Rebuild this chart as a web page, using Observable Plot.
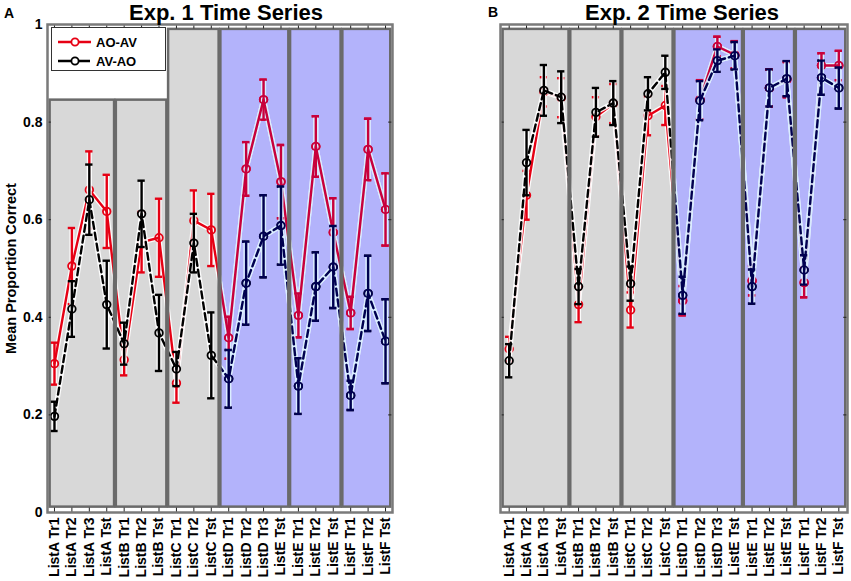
<!DOCTYPE html>
<html><head><meta charset="utf-8">
<script src="https://cdn.jsdelivr.net/npm/d3@7"></script>
<script src="https://cdn.jsdelivr.net/npm/@observablehq/plot@0.6"></script>
<style>
body{margin:0;background:#fff;font-family:"Liberation Sans",Arial,sans-serif;}
#fig{position:relative;width:851px;height:581px;overflow:hidden;background:#fff;}
.panel{position:absolute;top:0;}
.title{position:absolute;top:0;font-weight:bold;font-size:22px;line-height:25px;transform:translateX(-50%);white-space:nowrap;color:#000;}
.letter{position:absolute;font-weight:bold;font-size:14px;line-height:16px;color:#000;}
#legend{position:absolute;left:51px;top:27px;width:113px;height:42px;background:#fff;border:1.5px solid #333;}
#legend svg{position:absolute;left:0;top:0;}
</style></head><body>
<div id="fig"></div>
<script>
// ---- data ----
const conditions = ["ListA Tr1","ListA Tr2","ListA Tr3","ListA Tst","ListB Tr1","ListB Tr2","ListB Tst","ListC Tr1","ListC Tr2","ListC Tst","ListD Tr1","ListD Tr2","ListD Tr3","ListE Tst","ListE Tr1","ListE Tr2","ListE Tst","ListF Tr1","ListF Tr2","ListF Tst"];
const seriesNames = ["AO-AV","AV-AO"];

const exp1AOAV    = [0.305,0.505,0.661,0.617,0.313,0.554,0.563,0.265,0.598,0.579,0.358,0.704,0.846,0.678,0.404,0.750,0.574,0.409,0.744,0.621];
const exp1AOAVErr = [0.043,0.078,0.079,0.075,0.032,0.062,0.080,0.040,0.062,0.074,0.043,0.055,0.041,0.075,0.045,0.062,0.070,0.033,0.063,0.074];
const exp1AVAO    = [0.197,0.417,0.641,0.426,0.346,0.612,0.368,0.294,0.552,0.322,0.274,0.470,0.566,0.588,0.259,0.463,0.503,0.240,0.449,0.351];
const exp1AVAOErr = [0.030,0.057,0.072,0.090,0.043,0.068,0.078,0.035,0.060,0.088,0.059,0.085,0.084,0.080,0.057,0.070,0.084,0.030,0.077,0.086];

const exp2AOAV    = [0.335,0.650,0.862,0.850,0.426,0.811,0.838,0.415,0.813,0.834,0.434,0.846,0.955,0.938,0.475,0.870,0.887,0.471,0.916,0.916];
const exp2AOAVErr = [0.025,0.050,0.030,0.040,0.036,0.040,0.040,0.036,0.040,0.040,0.030,0.040,0.020,0.028,0.030,0.038,0.036,0.030,0.025,0.030];
const exp2AVAO    = [0.311,0.717,0.865,0.851,0.463,0.820,0.839,0.469,0.858,0.902,0.445,0.844,0.926,0.936,0.463,0.870,0.889,0.497,0.891,0.870];
const exp2AVAOErr = [0.034,0.067,0.052,0.053,0.036,0.050,0.045,0.035,0.034,0.034,0.038,0.040,0.023,0.028,0.035,0.038,0.036,0.030,0.035,0.042];

const blockStart = [1,5,8,11,15,18];
const blockEnd   = [4,7,10,14,17,20];
const blockKind  = ["gray","gray","gray","blue","blue","blue"];
const exp1BlockTop = [0.845,0.845,0.99,0.99,0.99,0.99];
const exp2BlockTop = [0.99,0.99,0.99,0.99,0.99,0.99];
const yTicks = [0,0.2,0.4,0.6,0.8,1];

// ---- drawing ----
const RED = "#e60014", BLACK = "#000000";
const RED_B = "#c8003c", BLACK_B = "#000050";
const FONT = "'Liberation Sans', Arial, sans-serif";
const idx = conditions.map((_, i) => i + 1);
let clipCount = 0;

function rowsOf(vals, errs) { return idx.map((x, i) => ({x, v: vals[i], e: errs[i]})); }

function seriesMarks(data, color, dash, halo, tag) {
  const lo = d => d.v - d.e, hi = d => d.v + d.e;
  const a = tag ? {ariaDescription: tag} : {};
  const w = 0.21;
  return [
    Plot.line(data, {x: "x", y: "v", stroke: halo, strokeWidth: 5, strokeOpacity: 0.9, ...a}),
    Plot.ruleX(data, {x: "x", y1: lo, y2: hi, stroke: halo, strokeWidth: 5, strokeOpacity: 0.9, ...a}),
    Plot.line(data, {x: "x", y: "v", stroke: color, strokeWidth: 2.4, strokeDasharray: dash, ...a}),
    Plot.ruleX(data, {x: "x", y1: lo, y2: hi, stroke: color, strokeWidth: 2.4, ...a}),
    Plot.ruleY(data, {x1: d => d.x - w, x2: d => d.x + w, y: hi, stroke: color, strokeWidth: 2.4, ...a}),
    Plot.ruleY(data, {x1: d => d.x - w, x2: d => d.x + w, y: lo, stroke: color, strokeWidth: 2.4, ...a}),
    Plot.dot(data, {x: "x", y: "v", r: 3.8, stroke: color, strokeWidth: 1.8, fill: "none", ...a})
  ];
}

function panel({aoav, aoavErr, avao, avaoErr, tops, xDomain, width, marginLeft, marginRight, showY}) {
  const blocks = blockStart.map((s, i) => ({x1: Math.max(s - 0.45, xDomain[0] + 0.15), x2: Math.min(blockEnd[i] + 0.45, xDomain[1] - 0.1), y1: 0.011, y2: tops[i], kind: blockKind[i]}));
  const gray = blocks.filter(b => b.kind === "gray");
  const blue = blocks.filter(b => b.kind === "blue");
  const red = rowsOf(aoav, aoavErr), black = rowsOf(avao, avaoErr);
  const marks = [
    Plot.rect(gray, {x1: "x1", x2: "x2", y1: "y1", y2: "y2", fill: "#d8d8d8"}),
    Plot.rect(blue, {x1: "x1", x2: "x2", y1: "y1", y2: "y2", fill: "#b3b3fb"}),
    ...seriesMarks(red, RED, null, "#fff", null),
    ...seriesMarks(black, BLACK, "7,4", "#fff", null),
    ...seriesMarks(red, RED_B, null, "#d6ecff", "inblue"),
    ...seriesMarks(black, BLACK_B, "7,4", "#d6ecff", "inblue"),
    Plot.rect(blocks, {x1: "x1", x2: "x2", y1: "y1", y2: "y2", fill: "none", stroke: "#6a6a6a", strokeWidth: 2.5}),
    Plot.ruleX(idx, {x: d => d, y1: 0, y2: 0.009, stroke: "#222", strokeWidth: 1}),
    Plot.ruleX(idx, {x: d => d, y1: 1, y2: 0.991, stroke: "#222", strokeWidth: 1}),
    Plot.ruleY(yTicks, {y: d => d, x1: xDomain[0], x2: xDomain[0] + 0.22, stroke: "#222", strokeWidth: 1}),
    Plot.ruleY(yTicks, {y: d => d, x1: xDomain[1], x2: xDomain[1] - 0.22, stroke: "#222", strokeWidth: 1}),
    Plot.frame({stroke: "#7a7a7a", strokeWidth: 2.5}),
    Plot.axisX(idx, {tickFormat: i => conditions[i - 1], tickRotate: -90, tickSize: 0, tickPadding: 5, label: null, fontSize: 14, fontWeight: "bold"})
  ];
  if (showY) {
    marks.push(Plot.axisY(yTicks, {tickFormat: d => d === 0 ? "0" : d === 1 ? "1" : String(d), tickSize: 0, tickPadding: 5, fontSize: 14, fontWeight: "bold"}));
    marks.push(Plot.axisY({ticks: [], tickSize: 0, label: "Mean Proportion Correct", labelAnchor: "center", labelArrow: "none", labelOffset: 42, fontSize: 14.5, fontWeight: "bold"}));
  }
  const svg = Plot.plot({
    width, height: 581,
    marginLeft, marginRight, marginTop: 24, marginBottom: 69,
    style: {fontFamily: FONT, fontWeight: "bold", fontSize: "12px", color: "#000", background: "transparent", overflow: "visible"},
    x: {domain: xDomain, axis: null},
    y: {domain: [0, 1], axis: null},
    marks
  });
  // clip the blue-region recolouring to the blue blocks, using the plot's own scales
  const xs = svg.scale("x"), ys = svg.scale("y");
  const ns = "http://www.w3.org/2000/svg";
  const id = "blueclip" + (clipCount++);
  const defs = document.createElementNS(ns, "defs");
  const cp = document.createElementNS(ns, "clipPath");
  cp.setAttribute("id", id);
  blue.forEach(b => {
    const r = document.createElementNS(ns, "rect");
    const x1 = xs.apply(b.x1), x2 = xs.apply(b.x2), y1 = ys.apply(b.y2), y2 = ys.apply(b.y1);
    r.setAttribute("x", x1); r.setAttribute("y", y1);
    r.setAttribute("width", x2 - x1); r.setAttribute("height", y2 - y1);
    cp.appendChild(r);
  });
  defs.appendChild(cp);
  svg.insertBefore(defs, svg.firstChild);
  svg.querySelectorAll('[aria-description="inblue"]').forEach(g => g.setAttribute("clip-path", `url(#${id})`));
  return svg;
}

const fig = document.getElementById("fig");
const left = panel({aoav: exp1AOAV, aoavErr: exp1AOAVErr, avao: exp1AVAO, avaoErr: exp1AVAOErr, tops: exp1BlockTop,
  xDomain: [0.6, 20.4], width: 430, marginLeft: 47, marginRight: 38, showY: true});
left.classList.add("panel"); left.style.left = "0px";
fig.appendChild(left);
const right = panel({aoav: exp2AOAV, aoavErr: exp2AOAVErr, avao: exp2AVAO, avaoErr: exp2AVAOErr, tops: exp2BlockTop,
  xDomain: [0.5, 20.5], width: 421, marginLeft: 70, marginRight: 4, showY: false});
right.classList.add("panel"); right.style.left = "430px";
fig.appendChild(right);

function addDiv(cls, text, css) {
  const d = document.createElement("div");
  d.className = cls; d.textContent = text; Object.assign(d.style, css); fig.appendChild(d); return d;
}
addDiv("title", "Exp. 1 Time Series", {left: "226px"});
addDiv("title", "Exp. 2 Time Series", {left: "682px"});
addDiv("letter", "A", {left: "4px", top: "5px"});
addDiv("letter", "B", {left: "488px", top: "4px"});

// legend
const lg = document.createElement("div");
lg.id = "legend";
lg.innerHTML = `<svg width="113" height="42" font-family="${FONT}" font-weight="bold" font-size="13">
  <line x1="6" x2="39" y1="14" y2="14" stroke="${RED}" stroke-width="2.4"/>
  <circle cx="23" cy="14" r="3.6" fill="#fff" stroke="${RED}" stroke-width="1.8"/>
  <text x="44" y="18.5" fill="#000">${seriesNames[0]}</text>
  <line x1="6" x2="39" y1="33" y2="33" stroke="${BLACK}" stroke-width="2.4" stroke-dasharray="14,4"/>
  <circle cx="23" cy="33" r="3.6" fill="#fff" stroke="${BLACK}" stroke-width="1.8"/>
  <text x="44" y="37.5" fill="#000">${seriesNames[1]}</text>
</svg>`;
fig.appendChild(lg);
</script>
</body></html>
